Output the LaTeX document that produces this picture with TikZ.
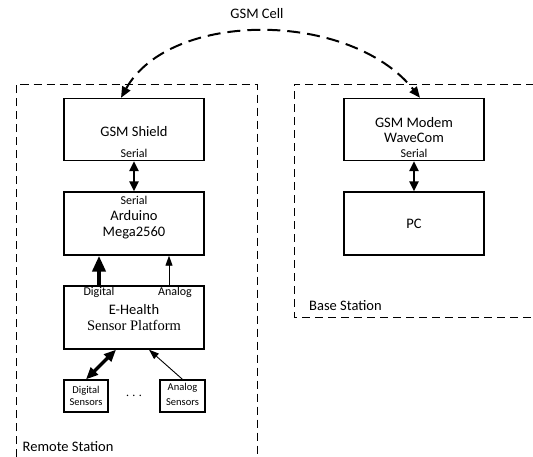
\documentclass[tikz,border=0pt]{standalone}
\usepackage{fontspec}
\setmainfont{Carlito}
\newfontfamily\serifface{Liberation Serif}
\usetikzlibrary{arrows.meta}
\begin{document}
\begin{tikzpicture}[x=1pt,y=-1pt,
  box/.style={draw,line width=1.4pt,inner sep=0,minimum width=140pt,minimum height=63pt},
  sbox/.style={draw,line width=1.3pt,inner sep=0,minimum width=44pt,minimum height=32pt},
  txt/.style={anchor=base,inner sep=0,font=\fontsize{14.5}{17}\selectfont},
  stxt/.style={anchor=base,inner sep=0,font=\fontsize{12}{14}\selectfont},
  xtxt/.style={anchor=base,inner sep=0,font=\fontsize{10.5}{12}\selectfont},
  region/.style={dash pattern=on 8pt off 5pt,line width=1pt},
  cell/.style={dash pattern=on 13pt off 7pt,line width=2pt,
    {Triangle[length=11pt,width=9pt]}-{Triangle[length=11pt,width=9pt]}},
  dbl/.style={line width=2.6pt,{Triangle[length=10pt,width=9pt]}-{Triangle[length=10pt,width=9pt]}},
  dblsens/.style={line width=3.4pt,{Triangle[length=12pt,width=10pt]}-{Triangle[length=12pt,width=10pt]}},
  thick arr/.style={line width=4pt,-{Triangle[length=16pt,width=13pt]}},
  thin arr/.style={line width=0.9pt,-{Triangle[length=10pt,width=7pt]}}
]
\useasboundingbox (0,0) rectangle (533,456);
\clip (0,0) rectangle (533,456);

% regions
\draw[region] (16.5,470) -- (16.5,84) -- (257,84) -- (257,470);
\draw[region] (560,84) -- (294,84) -- (294,317) -- (560,317);
\node[txt,anchor=base west] (rs) at (22.5,451) {Remote Station};
\node[txt,anchor=base west] (bs) at (309,310) {Base Station};

% boxes
\node[box,minimum height=62pt] (shield) at (134,129.5) {};
\node[box] (ard) at (134,223.5) {};
\node[box] (eh) at (134,317.5) {};
\node[sbox] (ds) at (86,396) {};
\node[sbox,minimum width=45pt] (as) at (182.5,396) {};
\node[box,minimum height=62pt] (modem) at (414,129.5) {};
\node[box] (pc) at (414,223.5) {};

% texts
\node[txt] (tcell) at (257,18.7) {GSM Cell};
\node[txt] (tshield) at (134,136.5) {GSM Shield};
\node[stxt] (tser1) at (134,157) {Serial};
\node[stxt] (tser2) at (134,204) {Serial};
\node[txt] (tard) at (134,220) {Arduino};
\node[txt] (tmega) at (134,236) {Mega2560};
\node[stxt] (tdig) at (99,295.5) {Digital};
\node[stxt] (tana) at (175,295.5) {Analog};
\node[txt] (teh) at (134,314) {E-Health};
\node[txt] (tsp) at (134,330) {\fontsize{14.5}{17}\serifface Sensor Platform};
\node[xtxt] (tds1) at (86,393) {Digital};
\node[xtxt] (tds2) at (86,405) {Sensors};
\node[xtxt] (tas1) at (182.5,390) {Analog};
\node[xtxt] (tas2) at (182.5,405.5) {Sensors};
\node[inner sep=0,font=\fontsize{14.5}{17}\selectfont] (dots) at (134,396) {$\cdots$};
\node[txt] (tmod1) at (414,127) {GSM Modem};
\node[txt] (tmod2) at (414,142) {WaveCom};
\node[stxt] (tser3) at (414,157) {Serial};
\node[txt] (tpc) at (414,228) {PC};

% connectors
\coordinate (cl) at ([xshift=-13pt]shield.north);
\coordinate (cr) at ([xshift=6pt]modem.north);
\draw[cell] (cl) .. controls (170,10) and (350,10) .. (cr);
\draw[dbl] (shield.south) -- (ard.north);
\draw[dbl] (modem.south) -- (pc.north);
\draw[thick arr] ([xshift=-35pt]eh.north) -- ([xshift=-35pt]ard.south);
\draw[thin arr] ([xshift=35pt]eh.north) -- ([xshift=35pt]ard.south);
\draw[dblsens] (ds.north) -- ([xshift=-18pt]eh.south);
\draw[thin arr] (as.north) -- ([xshift=15pt]eh.south);
\end{tikzpicture}
\end{document}
